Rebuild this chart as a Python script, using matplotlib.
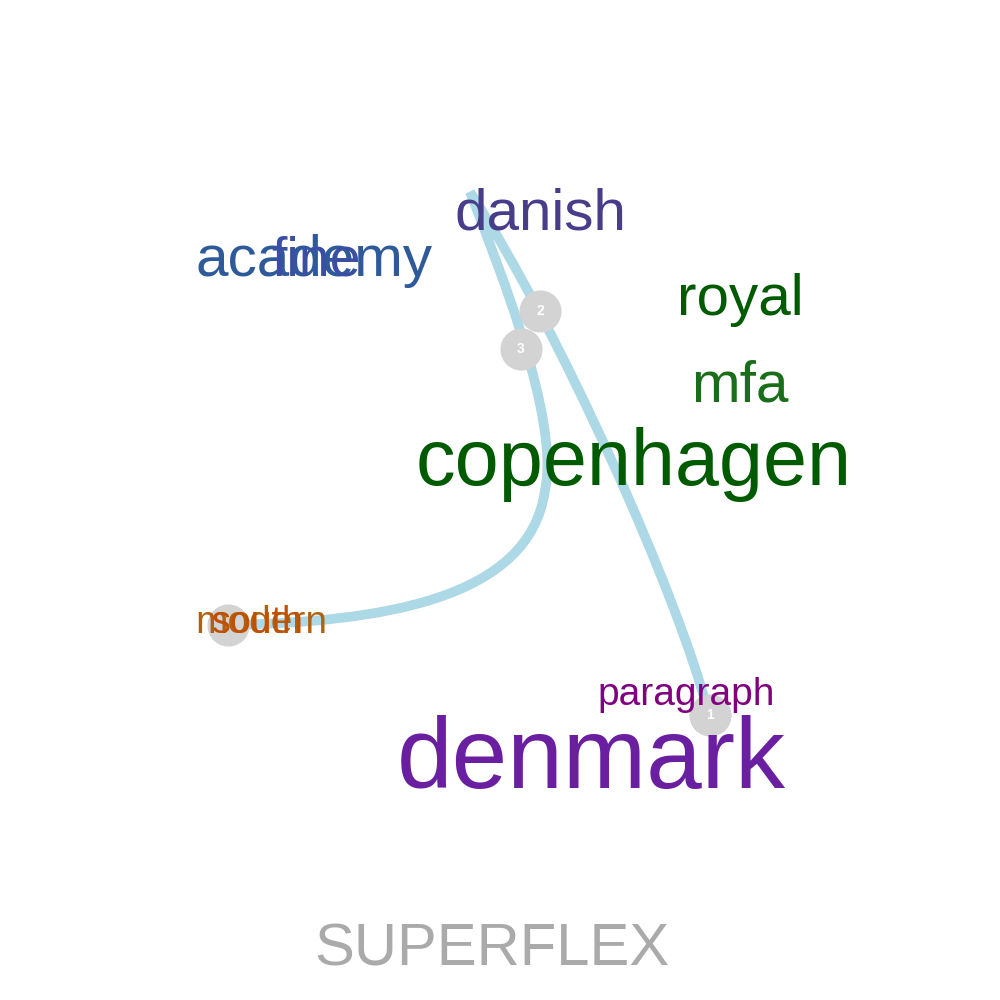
import matplotlib
matplotlib.use("Agg")
import matplotlib.pyplot as plt
from matplotlib.path import Path
from matplotlib.patches import PathPatch

plt.rcParams['font.family'] = ['Liberation Sans', 'DejaVu Sans']

words = ["danish", "academy", "fine", "royal", "mfa", "copenhagen", "denmark", "paragraph", "modern", "south"]
word_x = [540, 314, 316, 740, 740, 634, 591, 686, 261, 258]
word_y = [215, 261, 261, 300, 387, 465, 762, 695, 623, 623]
word_size = [42, 42, 40, 42, 42, 57, 72, 28, 28, 27]
word_color = ["#483d8b", "#2f5a9a", "#3a4fa3", "#005a00", "#1a6e1a", "#005a00",
              "#6a1fa0", "#800080", "#b06010", "#c05000"]

# path control points (cubic Bézier)
path_x = [708, 680, 560, 470, 500, 560, 545, 530, 380, 228]
path_y = [712, 600, 330, 192, 270, 420, 490, 600, 622, 625]

marker_labels = ["1", "2", "3", ""]
marker_x = [710, 540, 521, 228]
marker_y = [715, 311, 349, 625]

title = "SUPERFLEX"

fig = plt.figure(figsize=(10, 10), dpi=100)
ax = fig.add_axes([0, 0, 1, 1])
ax.set_xlim(0, 1000)
ax.set_ylim(1000, 0)
ax.axis('off')

codes = [Path.MOVETO] + [Path.CURVE4] * (len(path_x) - 1)
ax.add_patch(PathPatch(Path(list(zip(path_x, path_y)), codes), fill=False,
                       edgecolor="#add8e6", lw=7, capstyle='round', zorder=1))

ax.scatter(marker_x, marker_y, s=920, color="#d3d3d3", zorder=2, linewidths=0)
for lab, x, y in zip(marker_labels, marker_x, marker_y):
    ax.text(x, y, lab, color="white", fontsize=10, fontweight='bold',
            ha='center', va='center', zorder=3)

for w, x, y, s, c in zip(words, word_x, word_y, word_size, word_color):
    ax.text(x, y, w, fontsize=s, color=c, ha='center', va='center', zorder=4)

ax.text(492, 950, title, fontsize=43, color="#aaaaaa", ha='center', va='center')

fig.savefig("out.png", dpi=100)
